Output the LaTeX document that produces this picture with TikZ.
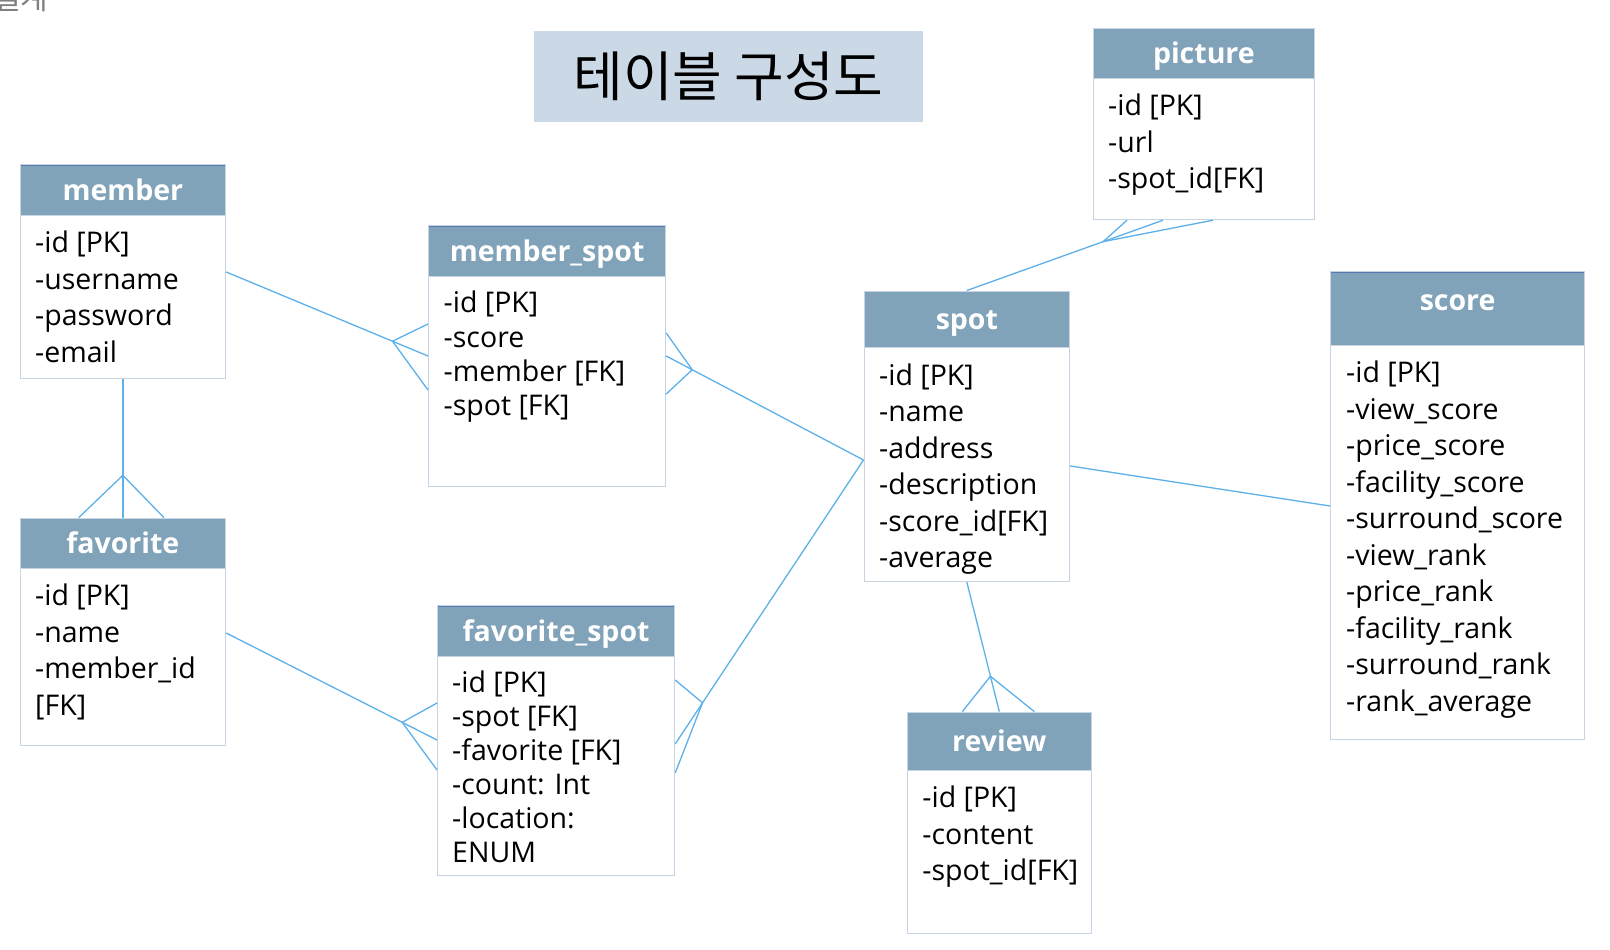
\documentclass[tikz,border=0pt]{standalone}
\usepackage{fontspec}
\setmainfont{Open Sans}
\newfontfamily\krfont{Noto Sans CJK KR}
\usetikzlibrary{positioning,calc}
\definecolor{hdfill}{HTML}{80A3BA}
\definecolor{hdtop}{HTML}{5A78B0}
\definecolor{boxline}{HTML}{C6D4E4}
\definecolor{linkblue}{HTML}{5DB0EA}
\definecolor{titlefill}{HTML}{CBD9E6}
\definecolor{cutgray}{HTML}{808080}

\begin{document}
\begin{tikzpicture}[
  x=1pt, y=-1pt,
  tbl/.style={draw=boxline, line width=1.2pt, fill=white, anchor=north west, inner sep=0pt},
  hd/.style={tbl, fill=hdfill, text=white, font=\bfseries\fontsize{28.5}{31}\selectfont,
             text height=27pt, text depth=6pt,
             path picture={\draw[hdtop,line width=2.4pt] (path picture bounding box.north west)
                           -- (path picture bounding box.north east);}},
  rows/.style={anchor=north west, align=left, inner sep=0pt, font=\fontsize{28.5}{#1}\selectfont},
  rows/.default=36.5pt,
  rel/.style={draw=linkblue, line width=1.3pt}
]
\useasboundingbox (0,0) rectangle (1610,950);
\fill[white] (0,0) rectangle (1610,950);

% title
\node[fill=titlefill, minimum width=389pt, minimum height=91pt, inner sep=0pt,
      font=\krfont\fontsize{54}{60}\selectfont] (title) at (728.5,76.5) {테이블 구성도};
\node[anchor=base west, inner sep=0pt, text=cutgray,
      font=\krfont\fontsize{30}{34}\selectfont] (cut) at (-7,10) {설계};

% tables
\node[hd, minimum width=205.5pt, minimum height=51pt] (member-h) at (19.5,164) {member};
\node[tbl, minimum width=205.5pt, minimum height=163pt] (member) at (19.5,215) {};
\node[rows, below right=16pt and 15.5pt of member.north west] (member-r)
  {-id [PK]\\-username\\-password\\-email};

\node[hd, minimum width=205.5pt, minimum height=50.5pt] (fav-h) at (19.5,517.5) {favorite};
\node[tbl, minimum width=205.5pt, minimum height=177pt] (fav) at (19.5,568) {};
\node[rows, below right=16pt and 15.5pt of fav.north west] (fav-r)
  {-id [PK]\\-name\\-member\_id\\{[FK]}};

\node[hd, minimum width=237pt, minimum height=51pt] (mspot-h) at (428,225) {member\_spot};
\node[tbl, minimum width=237pt, minimum height=210pt] (mspot) at (428,276) {};
\node[rows=34.2pt, below right=15pt and 15.5pt of mspot.north west] (mspot-r)
  {-id [PK]\\-score\\-member [FK]\\-spot [FK]};

\node[hd, minimum width=237pt, minimum height=51pt] (fspot-h) at (437,605) {favorite\_spot};
\node[tbl, minimum width=237pt, minimum height=219pt] (fspot) at (437,656) {};
\node[rows=33.9pt, below right=15pt and 15pt of fspot.north west] (fspot-r)
  {-id [PK]\\-spot [FK]\\-favorite [FK]\\-count: Int\\-location:\\ENUM};

\node[hd, minimum width=205.5pt, minimum height=56.5pt] (spot-h) at (863.5,290.5) {spot};
\node[tbl, minimum width=205.5pt, minimum height=234pt] (spot) at (863.5,347) {};
\node[rows, below right=16.5pt and 15.5pt of spot.north west] (spot-r)
  {-id [PK]\\-name\\-address\\-description\\-score\_id[FK]\\-average};

\node[hd, minimum width=221.5pt, minimum height=50.3pt] (pic-h) at (1092.5,27.7) {picture};
\node[tbl, minimum width=221.5pt, minimum height=141pt] (pic) at (1092.5,78) {};
\node[rows, below right=16pt and 15.5pt of pic.north west] (pic-r)
  {-id [PK]\\-url\\-spot\_id[FK]};

\node[hd, minimum width=254pt, minimum height=74pt, text depth=24pt] (score-h) at (1330,271) {score};
\node[tbl, minimum width=254pt, minimum height=394pt] (score) at (1330,345) {};
\node[rows, below right=16pt and 16pt of score.north west] (score-r)
  {-id [PK]\\-view\_score\\-price\_score\\-facility\_score\\-surround\_score\\-view\_rank\\
   -price\_rank\\-facility\_rank\\-surround\_rank\\-rank\_average};

\node[hd, minimum width=184pt, minimum height=58.4pt] (rev-h) at (906.7,711.6) {review};
\node[tbl, minimum width=184pt, minimum height=163pt] (rev) at (906.7,770) {};
\node[rows, below right=16pt and 15.5pt of rev.north west] (rev-r)
  {-id [PK]\\-content\\-spot\_id[FK]};

% relations (crow's foot at the many side)
\draw[rel] (member.east |- 0,272) -- coordinate[pos=0.824] (f1) (mspot.west |- 0,356);
\draw[rel] (mspot.west |- 0,324) -- (f1) -- (mspot.west |- 0,390);

\draw[rel] (member.south) -- coordinate[pos=0.695] (f2) (fav-h.north);
\draw[rel] ([xshift=-44pt]fav-h.north) -- (f2) -- ([xshift=41pt]fav-h.north);

\draw[rel] (fav.east |- 0,633) -- coordinate[pos=0.835] (f3) (fspot.west |- 0,740);
\draw[rel] (fspot.west |- 0,703) -- (f3) -- (fspot.west |- 0,770);

\draw[rel] (spot.west |- 0,460) -- coordinate[pos=0.868] (f4) (mspot.east |- 0,356);
\draw[rel] (mspot.east |- 0,333) -- (f4) -- (mspot.east |- 0,394);

\draw[rel] (spot.west |- 0,460) -- coordinate[pos=0.855] (f5) (fspot.east |- 0,744);
\draw[rel] (fspot.east |- 0,680) -- (f5) -- (fspot.east |- 0,773);

\draw[rel] (spot-h.north) -- coordinate[pos=0.695] (f6) (pic.south -| 1163,0);
\draw[rel] (pic.south -| 1127,0) -- (f6) -- (pic.south -| 1213,0);

\draw[rel] (spot.south) -- coordinate[pos=0.727] (f7) (rev-h.north);
\draw[rel] ([xshift=-37pt]rev-h.north) -- (f7) -- ([xshift=35pt]rev-h.north);

\draw[rel] (spot.east |- 0,466) -- (score.west |- 0,506);
\end{tikzpicture}
\end{document}
